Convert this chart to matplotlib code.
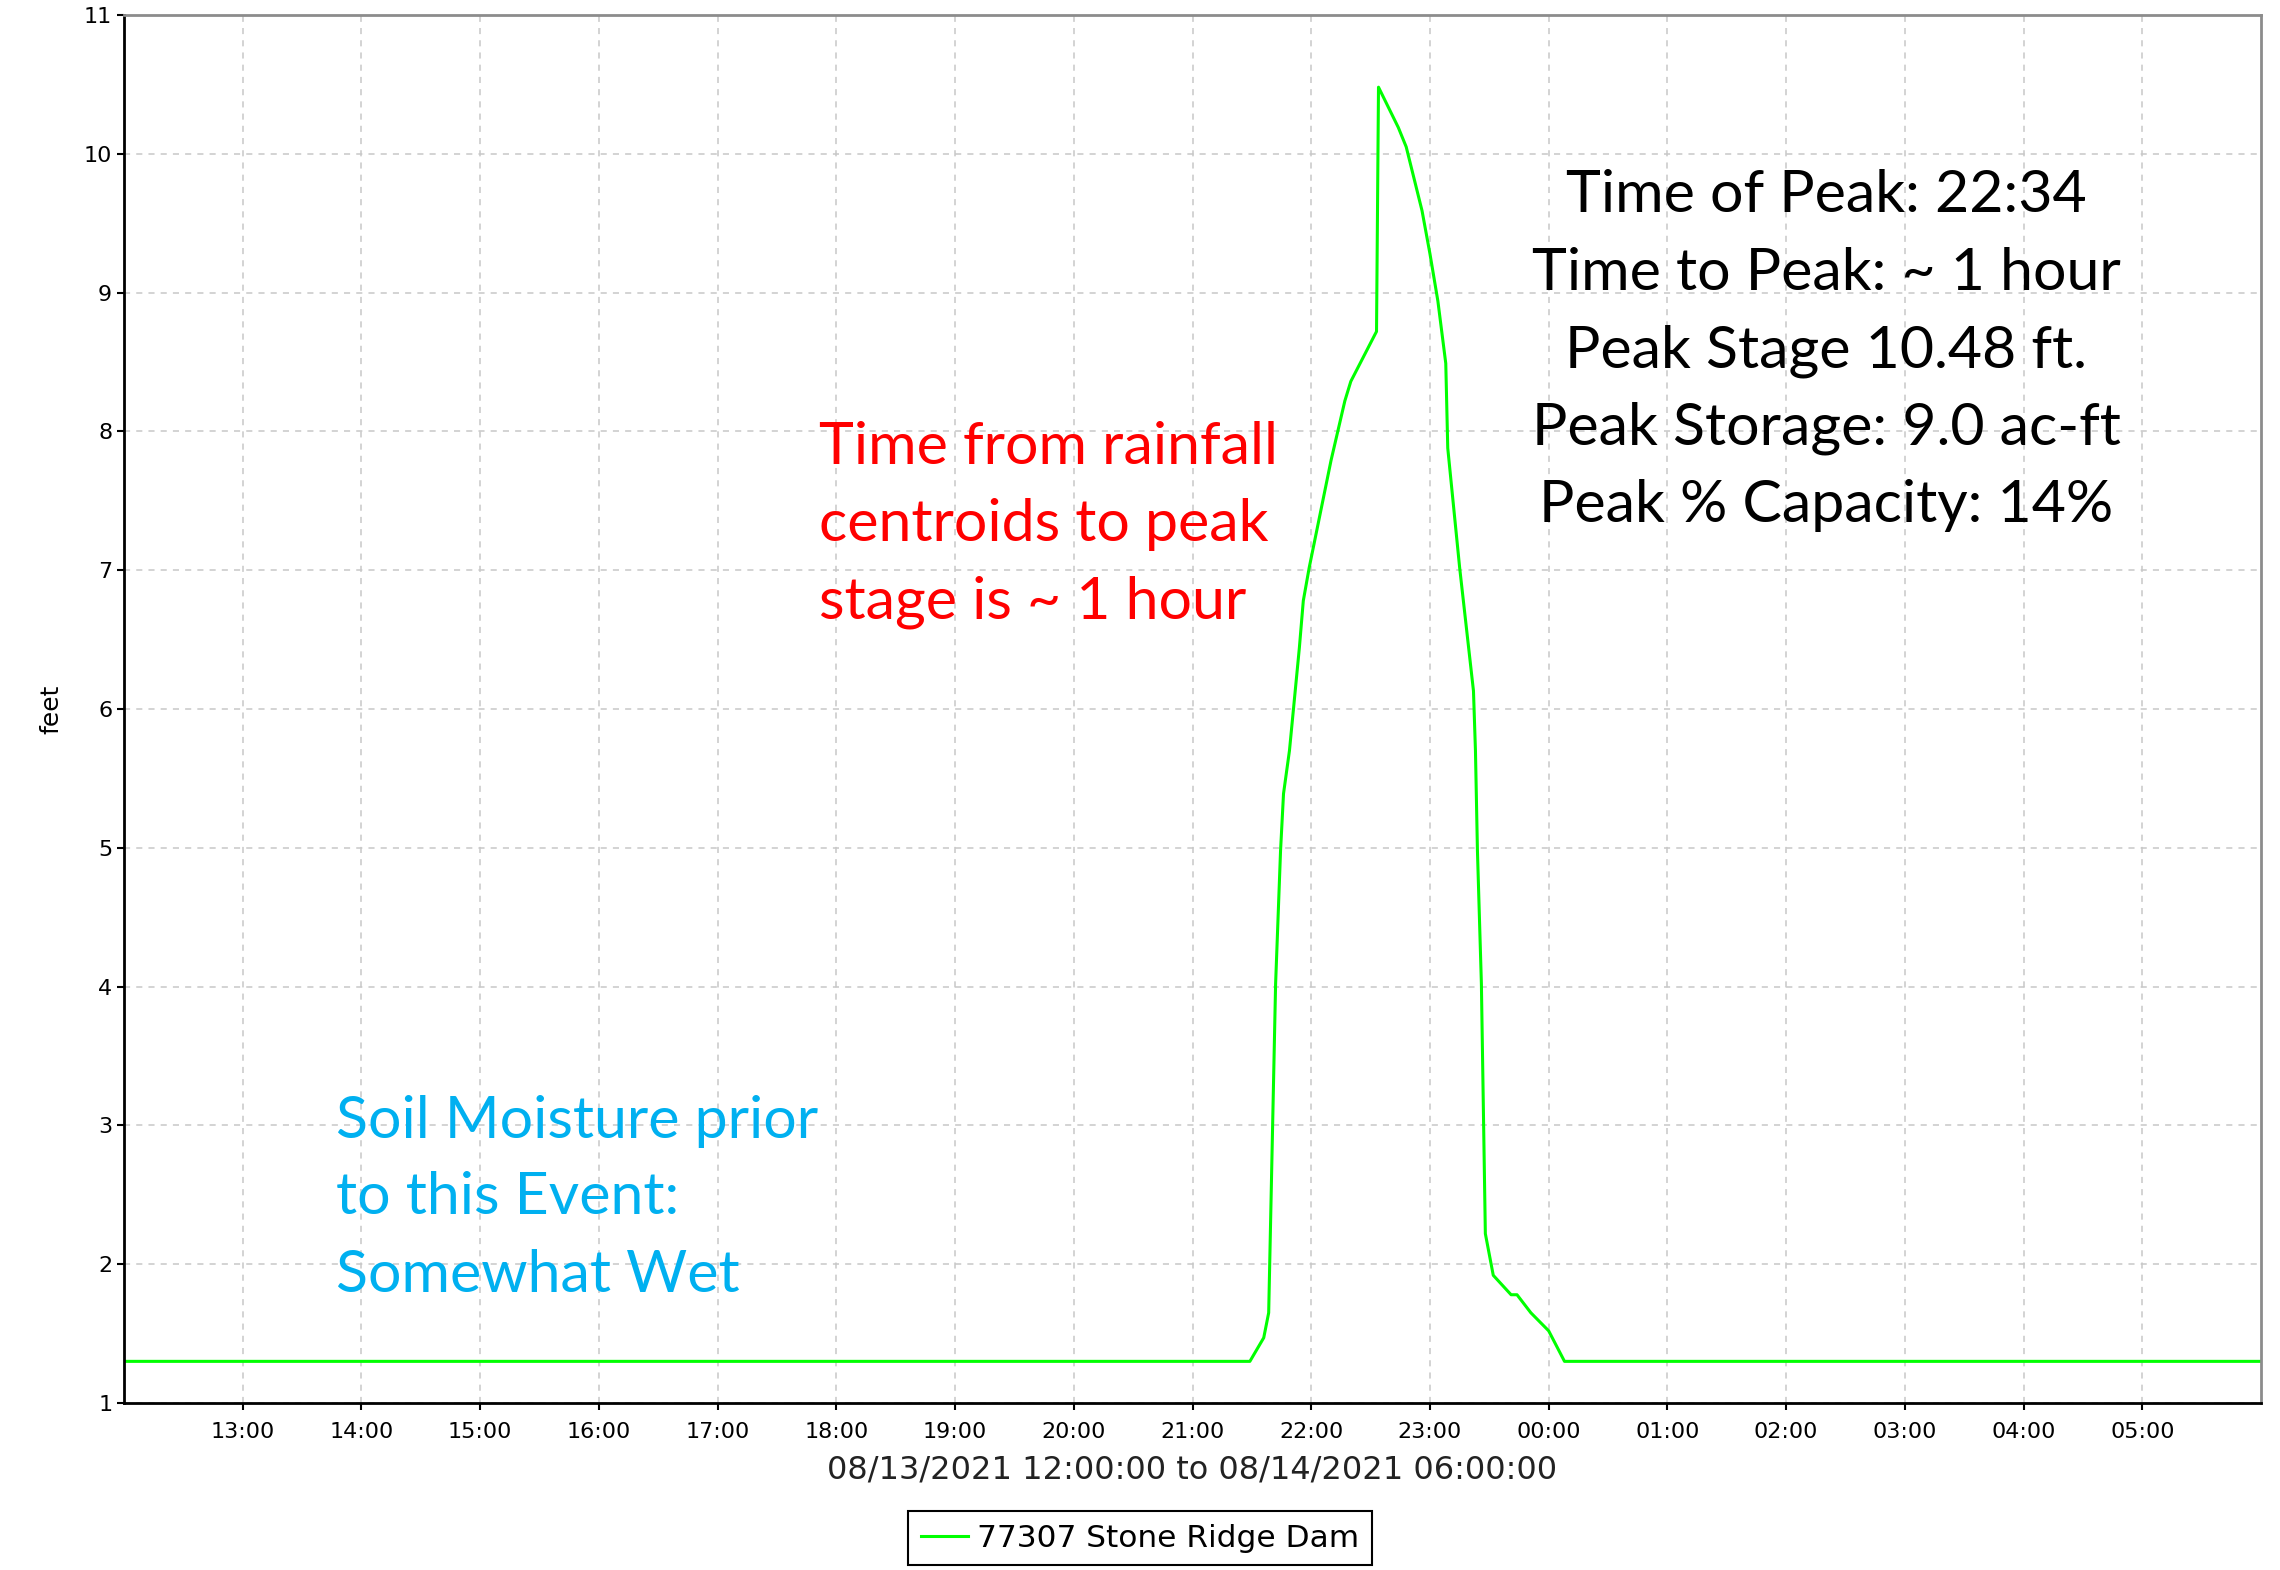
import pandas as pd
import matplotlib
matplotlib.use('Agg')
import matplotlib.pyplot as plt
import matplotlib.dates as mdates

# 水位读数 (时间, 英尺)
times = ['2021-08-13 12:00:00', '2021-08-13 21:29:00', '2021-08-13 21:36:00', '2021-08-13 21:38:30',
         '2021-08-13 21:42:00', '2021-08-13 21:44:30', '2021-08-13 21:46:00', '2021-08-13 21:49:00',
         '2021-08-13 21:54:00', '2021-08-13 21:56:00', '2021-08-13 21:59:00', '2021-08-13 22:10:00',
         '2021-08-13 22:17:00', '2021-08-13 22:20:00', '2021-08-13 22:33:00', '2021-08-13 22:34:00',
         '2021-08-13 22:44:00', '2021-08-13 22:48:00', '2021-08-13 22:56:00', '2021-08-13 23:00:00',
         '2021-08-13 23:04:00', '2021-08-13 23:08:00', '2021-08-13 23:09:00', '2021-08-13 23:15:00',
         '2021-08-13 23:22:00', '2021-08-13 23:23:00', '2021-08-13 23:24:00', '2021-08-13 23:26:00',
         '2021-08-13 23:28:00', '2021-08-13 23:32:00', '2021-08-13 23:41:00', '2021-08-13 23:44:00',
         '2021-08-13 23:51:00', '2021-08-14 00:00:00', '2021-08-14 00:08:00', '2021-08-14 06:00:00']
stage = [1.30, 1.30, 1.47, 1.65,
         4.02, 4.98, 5.39, 5.70,
         6.44, 6.78, 7.02, 7.79,
         8.22, 8.36, 8.72, 10.48,
         10.19, 10.05, 9.59, 9.28,
         8.94, 8.49, 7.88, 7.02,
         6.13, 5.70, 4.98, 4.02,
         2.22, 1.92, 1.78, 1.78,
         1.65, 1.52, 1.30, 1.30]
series_name = '77307 Stone Ridge Dam'
x_title = '08/13/2021 12:00:00 to 08/14/2021 06:00:00'
y_title = 'feet'

peak_lines = ['Time of Peak: 22:34', 'Time to Peak: ~ 1 hour', 'Peak Stage 10.48 ft.',
              'Peak Storage: 9.0 ac-ft', 'Peak % Capacity: 14%']
rain_lines = ['Time from rainfall', 'centroids to peak', 'stage is ~ 1 hour']
soil_lines = ['Soil Moisture prior', 'to this Event:', 'Somewhat Wet']

t = pd.to_datetime(times, format='%Y-%m-%d %H:%M:%S')
W, H = 2280, 1570

fig = plt.figure(figsize=(W / 100, H / 100), dpi=100)
ax = fig.add_axes([124 / W, 1 - 1403 / H, (2261 - 124) / W, (1403 - 15) / H])

ax.plot(t, stage, color='#00ff00', linewidth=2.2, label=series_name)

ax.set_xlim(pd.Timestamp('2021-08-13 12:00'), pd.Timestamp('2021-08-14 06:00'))
ax.set_ylim(1, 11)
ax.set_yticks(range(1, 12))
hours = pd.date_range('2021-08-13 13:00', '2021-08-14 05:00', freq='h')
ax.set_xticks(hours)
ax.xaxis.set_major_formatter(mdates.DateFormatter('%H:%M'))

ax.grid(True, color='#c8c8c8', linestyle=(0, (4, 4)), linewidth=1.1)
ax.tick_params(direction='out', length=5, width=1.5, labelsize=16, colors='black')
ax.tick_params(axis='x', pad=9)
for s in ['left', 'bottom']:
    ax.spines[s].set_color('black')
    ax.spines[s].set_linewidth(2)
for s in ['top', 'right']:
    ax.spines[s].set_color('#8c8c8c')
    ax.spines[s].set_linewidth(2)

ax.set_xlabel(x_title, fontsize=23, color='#222222', labelpad=9)
ax.set_ylabel(y_title, fontsize=18, labelpad=15)

leg = fig.legend(loc='lower center', bbox_to_anchor=(0.5, 0.003), fontsize=22.5,
                 fancybox=False, edgecolor='black', framealpha=1, handlelength=1.5,
                 handletextpad=0.3, borderpad=0.4, borderaxespad=0)
leg.get_frame().set_linewidth(1.5)

# 注释文字
font = 'Lato'
for i, line in enumerate(peak_lines):
    fig.text(1826 / W, 1 - (196 + 77.5 * i) / H, line, ha='center', va='center',
             fontsize=42.5, family=font, color='black')
for i, line in enumerate(rain_lines):
    fig.text(819 / W, 1 - (447 + 77.5 * i) / H, line, ha='left', va='center',
             fontsize=42.5, family=font, color='#ff0000')
for i, line in enumerate(soil_lines):
    fig.text(336 / W, 1 - (1121 + 77 * i) / H, line, ha='left', va='center',
             fontsize=42.5, family=font, color='#00b0f0')

fig.savefig('out.png', dpi=100)
